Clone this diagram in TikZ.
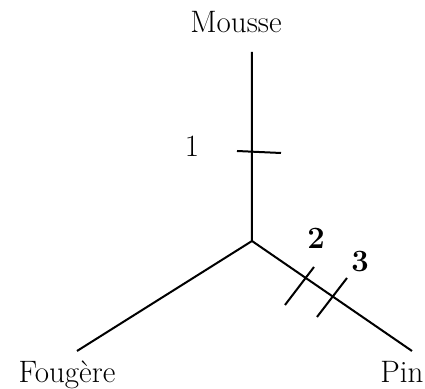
\documentclass[tikz,border=0pt]{standalone}
\usepackage{tikz}
\usetikzlibrary{calc}

\begin{document}
\begin{tikzpicture}[x=0.5pt, y=-0.5pt, line width=1pt, every node/.style={font=\fontsize{15.5}{18}\selectfont, anchor=base, inner sep=0pt}]
            \useasboundingbox (0,0) rectangle (425,389);

            \coordinate (R) at (252,241);
            \coordinate (M) at (252,52);
            \coordinate (F) at (77,351);
            \coordinate (P) at (412,351);

            \coordinate (T1a) at (237,151);
            \coordinate (T1b) at (281,153);
            \coordinate (T2a) at (285,305);
            \coordinate (T2b) at (314,267);
            \coordinate (T3a) at (317,317);
            \coordinate (T3b) at (347,278);

            \node (mousse) at (236,33) {Mousse};
            \node (fougere) at (67,383) {Fougère};
            \node (pin) at (402,383) {Pin};

            \node (l1) at (192,157) {1};
            \node (l2) at (316,249) {\bfseries 2};
            \node (l3) at (360,272) {\bfseries 3};

            \draw (M) -- (R) -- (F);
            \draw (R) -- (P);
            \draw (T1a) -- (T1b);
            \draw (T2a) -- (T2b);
            \draw (T3a) -- (T3b);
        \end{tikzpicture}
\end{document}
